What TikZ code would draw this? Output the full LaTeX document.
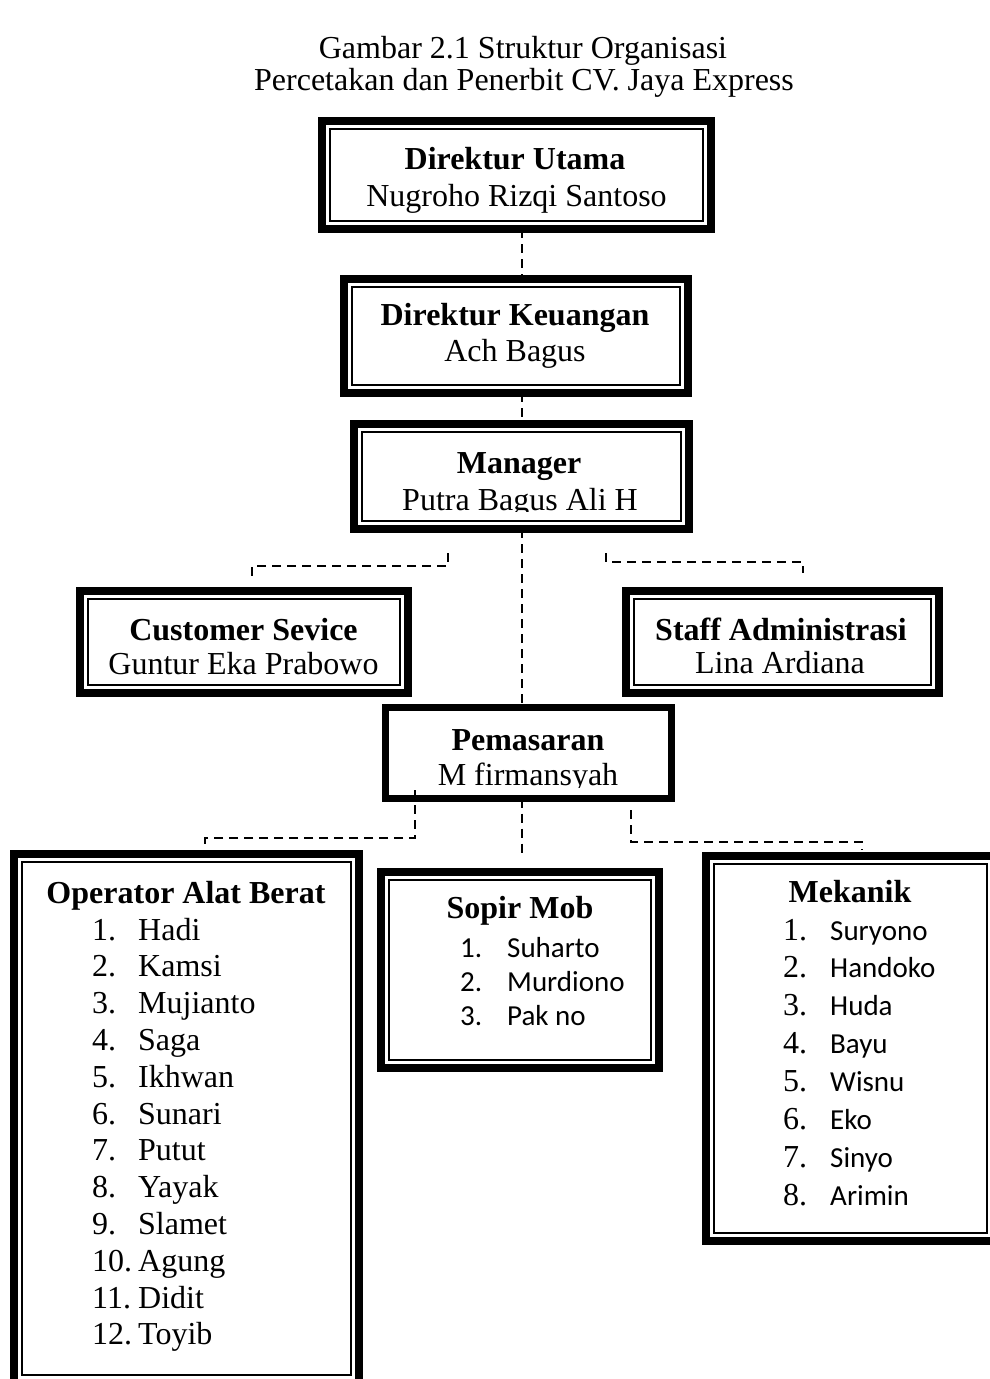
\documentclass[tikz,border=0pt]{standalone}
\usepackage{fontspec}
\setmainfont{Liberation Serif}
\newfontfamily\calfont{Carlito}
\tikzset{
  outerbox/.style={draw, line width=8pt, inner sep=0pt, outer sep=0pt},
  singlebox/.style={draw, line width=7pt, inner sep=0pt, outer sep=0pt},
  innerline/.style={line width=1.6pt},
  conn/.style={line width=2pt, dash pattern=on 9pt off 6pt},
  big/.style={font=\fontsize{32}{37}\selectfont, inner sep=0pt, anchor=base},
  bigb/.style={font=\fontsize{32}{37}\selectfont\bfseries, inner sep=0pt, anchor=base},
  num/.style={font=\fontsize{32}{37}\selectfont, inner sep=0pt, anchor=base west},
  calnum/.style={font=\fontsize{29}{34}\calfont\selectfont, inner sep=0pt, anchor=base west},
}
\newcommand{\orgbox}[5]{%
  \node[outerbox, minimum width={#4-#2-8}, minimum height={#5-#3-8}] (#1) at ({(#2+#4)/2},{(#3+#5)/2}) {};
  \draw[innerline] ({#2+12},{#3+12}) rectangle ({#4-12},{#5-12});
}
\begin{document}
\begin{tikzpicture}[x=1pt, y=-1pt]
\useasboundingbox (0,0) rectangle (989,1379);
\fill[white] (0,0) rectangle (989,1379);

% title
\node[big] (title1) at (523,58) {Gambar 2.1 Struktur Organisasi};
\node[big] (title2) at (524,90) {Percetakan dan Penerbit CV. Jaya Express};

% boxes
\orgbox{du}{318}{117}{715}{233}
\orgbox{dk}{340}{275}{692}{397}
\orgbox{mg}{350}{420}{693}{533}
\orgbox{cs}{76}{587}{412}{697}
\orgbox{sa}{622}{587}{943}{697}
\node[singlebox, minimum width=286, minimum height=91] (pm) at (528.5,753) {};
\orgbox{op}{10}{850}{363}{1387}
\orgbox{sm}{377}{868}{663}{1072}
\orgbox{mk}{702}{852}{999}{1245}

% box texts
\node[bigb] (du-t) at (515,169) {Direktur Utama};
\begin{scope}
  \clip (331,180) rectangle (702,212);
  \node[big] (du-n) at (516.5,206.5) {Nugroho Rizqi Santoso};
\end{scope}
\node[bigb] (dk-t) at (515,325) {Direktur Keuangan};
\node[big] (dk-n) at (515,361.5) {Ach Bagus};
\node[bigb] (mg-t) at (519,473) {Manager};
\begin{scope}
  \clip (363,480) rectangle (680,511);
  \node[big] (mg-n) at (520,510) {Putra Bagus Ali H};
\end{scope}
\node[bigb] (cs-t) at (243.5,640) {Customer Sevice};
\begin{scope}
  \clip (89,645) rectangle (399,675);
  \node[big] (cs-n) at (243.5,674) {Guntur Eka Prabowo};
\end{scope}
\node[bigb] (sa-t) at (781,640) {Staff Administrasi};
\node[big] (sa-n) at (780,673) {Lina Ardiana};
\node[bigb] (pm-t) at (528,750) {Pemasaran};
\begin{scope}
  \clip (390,755) rectangle (667,787);
  \node[big] (pm-n) at (528,785) {M firmansyah};
\end{scope}

% Operator list
\node[bigb] (op-t) at (186,903) {Operator Alat Berat};
\foreach \n/\name [count=\i from 0] in {1/Hadi,2/Kamsi,3/Mujianto,4/Saga,5/Ikhwan,6/Sunari,7/Putut,8/Yayak,9/Slamet,10/Agung,11/Didit,12/Toyib} {
  \node[num] (opn\n) at (92,{940+36.8*\i}) {\n.};
  \node[num] (opm\n) at (138,{940+36.8*\i}) {\name};
}

% Sopir Mob list
\node[bigb] (sm-t) at (520,918) {Sopir Mob};
\foreach \n/\name [count=\i from 0] in {1/Suharto,2/Murdiono,3/Pak no} {
  \node[calnum] (smn\n) at (460,{957+34.4*\i}) {\n.};
  \node[calnum] (smm\n) at (507,{957+34.4*\i}) {\name};
}

% Mekanik list
\node[bigb] (mk-t) at (850,902) {Mekanik};
\foreach \n/\name [count=\i from 0] in {1/Suryono,2/Handoko,3/Huda,4/Bayu,5/Wisnu,6/Eko,7/Sinyo,8/Arimin} {
  \node[num] (mkn\n) at (783,{940+37.9*\i}) {\n.};
  \node[calnum] (mkm\n) at (830,{940+37.9*\i}) {\name};
}

% connectors
\coordinate (spine) at (522,0);
\draw[conn] (du.south -| spine) -- (dk.north -| spine);
\draw[conn] (dk.south -| spine) -- (mg.north -| spine);
\draw[conn] (mg.south -| spine) -- (pm.north -| spine);

\coordinate (lb1) at (448,553);
\coordinate (lb2) at (252,577);
\draw[conn] (lb1) -- ++(0,13) -| (lb2);
\coordinate (rb1) at (606,553);
\coordinate (rb2) at (803,573);
\draw[conn] (rb1) -- ++(0,9) -| (rb2);

\coordinate (pl1) at (415,790);
\coordinate (pl2) at (205,850);
\draw[conn] (pl1) -- ++(0,48) -| (pl2);
\coordinate (pmm) at (522,858);
\draw[conn] (pm.south -| spine) -- (pmm);
\coordinate (pr1) at (631,810);
\coordinate (pr2) at (862,850);
\draw[conn] (pr1) -- ++(0,32) -| (pr2);
\end{tikzpicture}
\end{document}
